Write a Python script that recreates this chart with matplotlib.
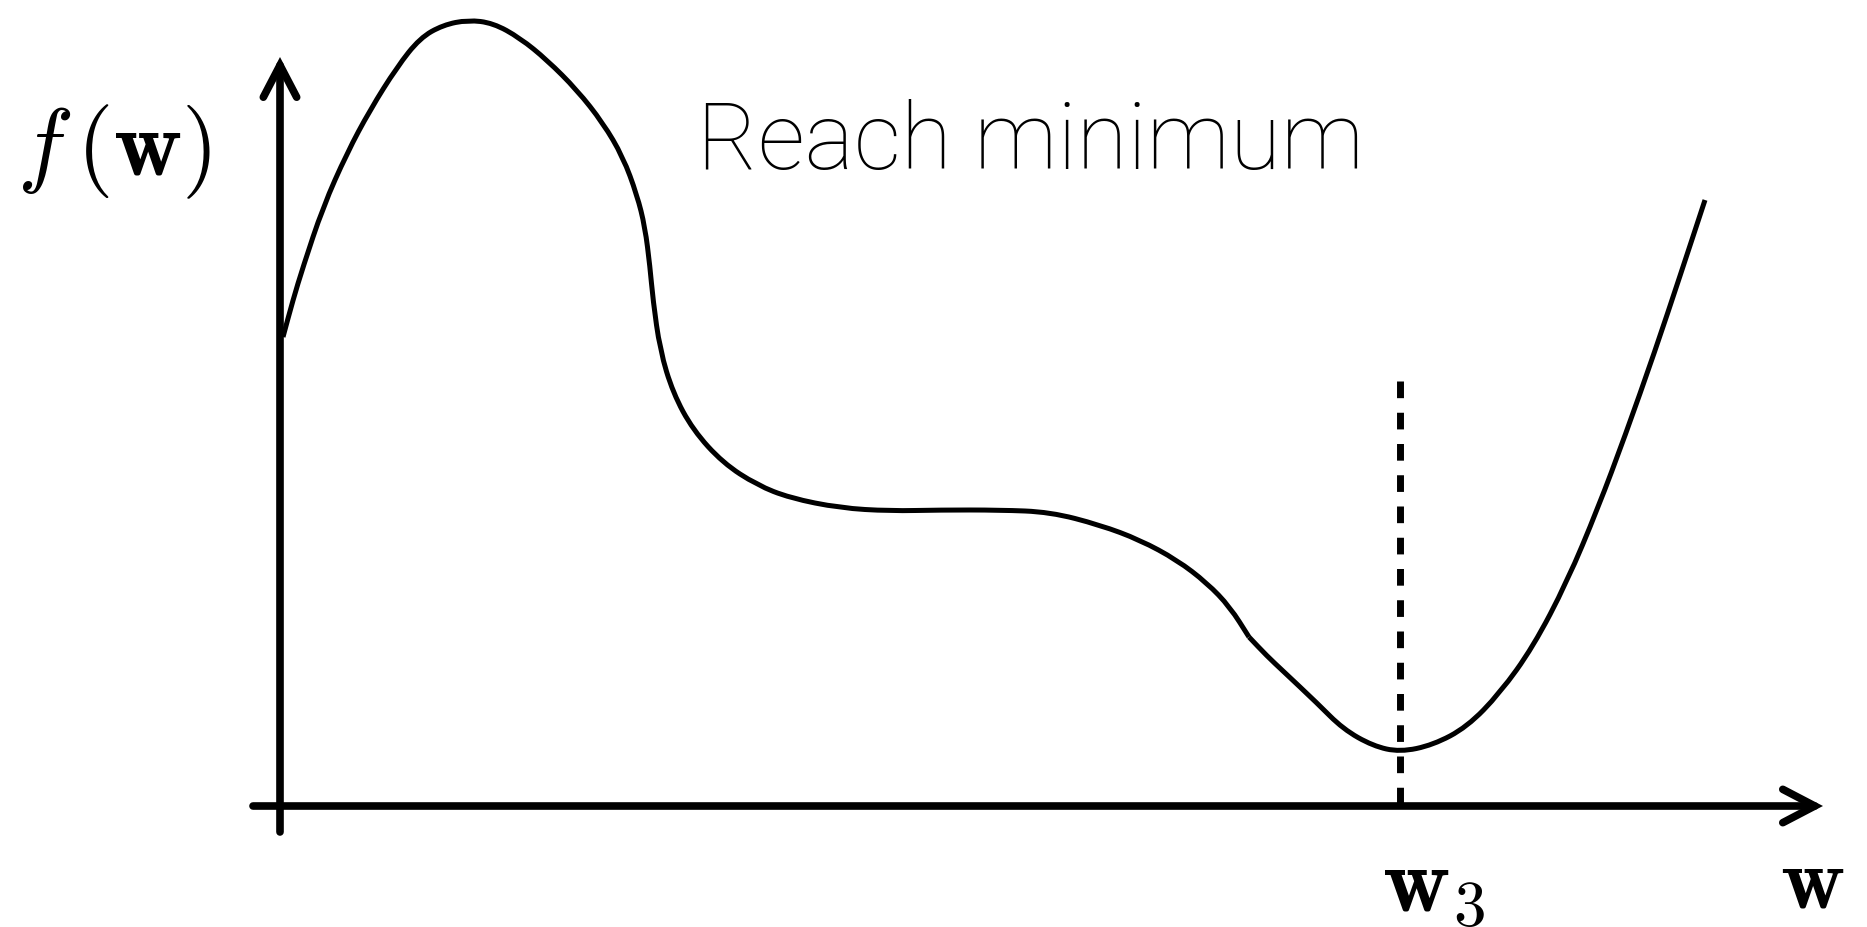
import numpy as np
import matplotlib.pyplot as plt
from matplotlib.path import Path
from matplotlib.patches import PathPatch

# curve f(w), in axis units (origin at the axes crossing)
curve_w = [0.03, 0.13, 0.23, 0.43, 0.67, 0.90, 1.17, 1.40, 1.63, 1.88, 2.13, 2.40,
           2.67, 2.97, 3.23, 3.43, 3.57, 3.65, 3.70, 3.73, 3.80, 3.93, 4.13, 4.43,
           4.77, 5.10, 5.60, 6.10, 6.60, 7.20, 7.70, 8.20, 8.60, 8.97, 9.27, 9.50,
           9.69, 9.87, 10.03, 10.37, 10.63, 10.93, 11.20, 11.53, 11.87, 12.20, 12.53,
           12.87, 13.18, 13.45, 13.75, 14.00, 14.25]
curve_f = [4.69, 5.06, 5.39, 5.99, 6.53, 6.96, 7.39, 7.68, 7.81, 7.86, 7.83, 7.68,
           7.46, 7.16, 6.83, 6.49, 6.11, 5.79, 5.39, 5.06, 4.56, 4.13, 3.76, 3.43,
           3.21, 3.08, 2.98, 2.95, 2.96, 2.96, 2.94, 2.81, 2.66, 2.46, 2.23, 1.99,
           1.69, 1.50, 1.35, 1.03, 0.77, 0.60, 0.54, 0.61, 0.79, 1.13, 1.59,
           2.24, 2.98, 3.70, 4.55, 5.30, 6.06]
kink_index = 36     # the curve has a small corner here

w3 = 11.20          # position of the minimum
w3_line_top = 4.25  # top of the dashed marker

x_axis_span = (-0.27, 15.43)
y_axis_span = (-0.26, 7.49)

title_text = 'Reach minimum'
y_label = r'$f\,(\mathbf{w})$'
x_label = r'$\mathbf{w}$'
w3_label = r'$\mathbf{w}_3$'


def main():
    plt.rcParams['mathtext.fontset'] = 'cm'
    figure = plt.figure(figsize=(18.67, 9.27), dpi=100)
    axis = figure.add_axes([0, 0, 1, 1])
    axis.set_xlim(-2.80, 15.87)
    axis.set_ylim(-1.21, 8.06)
    axis.axis('off')

    draw_axes(axis)

    points = np.column_stack([curve_w, curve_f])
    draw_smooth(axis, points[:kink_index + 1])
    draw_smooth(axis, points[kink_index:])

    axis.plot([w3, w3], [w3_line_top, 0], color='black', lw=5.0,
              dashes=(2.4, 2.1), dash_capstyle='butt')

    axis.text(4.17, 6.37, title_text, fontsize=67, family=['Roboto', 'DejaVu Sans'],
              fontweight='light', ha='left', va='baseline')
    axis.text(-1.66, 6.31, y_label, fontsize=68, ha='center', va='baseline')
    axis.text(11.54, -1.05, w3_label, fontsize=67, ha='center', va='baseline')
    axis.text(15.32, -1.02, x_label, fontsize=64, ha='center', va='baseline')

    figure.savefig('out.png', dpi=100)


def draw_smooth(axis, points):
    # quadratic bezier through the midpoints, the read points act as controls
    verts = [points[0], (points[0] + points[1]) / 2]
    codes = [Path.MOVETO, Path.LINETO]
    for i in range(1, len(points) - 1):
        verts += [points[i], (points[i] + points[i + 1]) / 2]
        codes += [Path.CURVE3, Path.CURVE3]
    verts.append(points[-1])
    codes.append(Path.LINETO)
    patch = PathPatch(Path(verts, codes), facecolor='none', edgecolor='black',
                      lw=3.6, joinstyle='round', capstyle='butt')
    axis.add_patch(patch)


def draw_axes(axis):
    arrow = dict(arrowstyle='->,head_length=2.3,head_width=1.2', lw=5.5,
                 color='black', shrinkA=0, shrinkB=0, joinstyle='miter')
    axis.annotate('', xy=(x_axis_span[1], 0), xytext=(x_axis_span[0], 0),
                  arrowprops=arrow)
    axis.annotate('', xy=(0, y_axis_span[1]), xytext=(0, y_axis_span[0]),
                  arrowprops=arrow)


if __name__ == "__main__":
    main()
